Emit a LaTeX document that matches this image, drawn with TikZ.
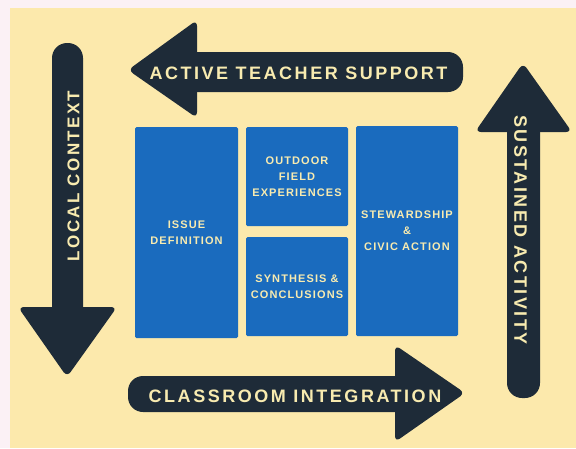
\documentclass[tikz,border=0pt]{standalone}
\usepackage{fontspec}
\setmainfont{Liberation Sans}
\newfontfamily\arrowfont{Liberation Sans}[LetterSpace=14]
\newfontfamily\boxfont{Liberation Sans}[LetterSpace=10]
\definecolor{paper}{HTML}{FCE9AC}
\definecolor{edge}{HTML}{FBF1F5}
\definecolor{stepblue}{HTML}{1A6BBE}
\definecolor{ink}{HTML}{1E2B38}
\definecolor{cream}{HTML}{F8EBB0}

\begin{document}
\begin{tikzpicture}[x=1pt,y=-1pt,
    shaft/.style={fill=ink,rounded corners=15pt},
    head/.style={fill=ink,rounded corners=6pt},
    tag/.style={text=cream,inner sep=0pt,font=\arrowfont\bfseries\fontsize{18}{20}\selectfont},
    stage/.style={fill=stepblue,rounded corners=1.5pt,text=cream,align=center,inner sep=0pt,
      font=\boxfont\bfseries\fontsize{11}{16}\selectfont}]
          \useasboundingbox (0,0) rectangle (576,448);
          \fill[edge] (0,0) rectangle (576,448);
          \fill[paper] (10,8) rectangle (576,448);
          % top arrow
          \fill[shaft] (180,52) rectangle (463,92);
          \fill[head] (128,70) -- (197,20) -- (197,118) -- cycle;
          \node[tag] (support) at (298.5,73) {ACTIVE TEACHER SUPPORT};
          % right arrow
          \fill[shaft] (507,110) rectangle (540,398);
          \fill[head] (523,63) -- (572,132) -- (475,132) -- cycle;
          \node[tag,rotate=-90] (activity) at (520.5,230) {SUSTAINED ACTIVITY};
          % bottom arrow
          \fill[shaft] (128,376) rectangle (410,412);
          \fill[head] (465,393) -- (395,442) -- (395,345) -- cycle;
          \node[tag] (classroom) at (295,396.5) {CLASSROOM INTEGRATION};
          % left arrow
          \fill[shaft] (52,43) rectangle (83,330);
          \fill[head] (67,377) -- (18,307) -- (117,307) -- cycle;
          \node[tag,rotate=90,font=\arrowfont\bfseries\fontsize{17}{20}\selectfont] (context) at (73.5,176) {LOCAL CONTEXT};
          % stages
          \node[stage,minimum width=103pt,minimum height=211pt] (issue) at (186.5,232.5) {ISSUE\\DEFINITION};
          \node[stage,minimum width=102pt,minimum height=99pt] (outdoor) at (297,176.5) {OUTDOOR\\FIELD\\EXPERIENCES};
          \node[stage,minimum width=102pt,minimum height=99pt] (synthesis) at (297,286.5) {SYNTHESIS \&\\CONCLUSIONS};
          \node[stage,minimum width=102pt,minimum height=210pt] (steward) at (407,231) {STEWARDSHIP\\\&\\CIVIC ACTION};
\end{tikzpicture}
\end{document}
